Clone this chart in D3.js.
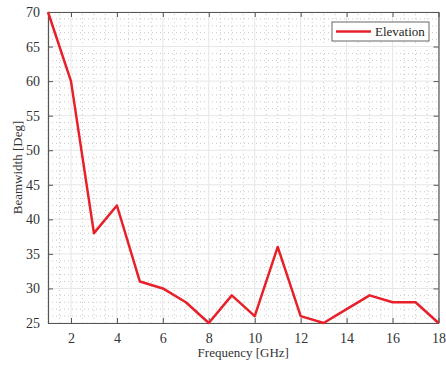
<!DOCTYPE html>
<html>
<head>
<meta charset="utf-8">
<script src="https://cdn.jsdelivr.net/npm/d3@7"></script>
<style>
  body { margin: 0; background: #fff; }
  svg text { font-family: "Liberation Serif", "Times New Roman", serif !important; }
</style>
</head>
<body>
<div id="chart"></div>
<script>
// data
const frequency = [1, 2, 3, 4, 5, 6, 7, 8, 9, 10, 11, 12, 13, 14, 15, 16, 17, 18];
const elevation = [70, 60, 38, 42, 31, 30, 28, 25, 29, 26, 36, 26, 25, 27, 29, 28, 28, 25];
const xTicks = [2, 4, 6, 8, 10, 12, 14, 16, 18];
const yTicks = [25, 30, 35, 40, 45, 50, 55, 60, 65, 70];

const w = 446, h = 367;
const margin = { top: 12, right: 7.5, bottom: 44, left: 48 };

const svg = d3.select("#chart").append("svg")
    .attr("width", w)
    .attr("height", h);

const x = d3.scaleLinear().domain([1, 18]).range([margin.left, w - margin.right]);
const y = d3.scaleLinear().domain([25, 70]).range([h - margin.bottom, margin.top]);

// minor grid (dotted)
const xMinor = d3.range(1, 18.01, 0.5).filter(v => v % 2 !== 0);
const yMinor = d3.range(25, 70.01, 1).filter(v => v % 5 !== 0);

svg.append("g")
    .selectAll("line")
    .data(xMinor)
    .enter().append("line")
    .attr("x1", d => x(d)).attr("x2", d => x(d))
    .attr("y1", y(25)).attr("y2", y(70))
    .attr("stroke", "#c8c8c8")
    .attr("stroke-width", 1)
    .attr("stroke-dasharray", "1,3");

svg.append("g")
    .selectAll("line")
    .data(yMinor)
    .enter().append("line")
    .attr("x1", x(1)).attr("x2", x(18))
    .attr("y1", d => y(d)).attr("y2", d => y(d))
    .attr("stroke", "#c8c8c8")
    .attr("stroke-width", 1)
    .attr("stroke-dasharray", "1,3");

// major grid
svg.append("g")
    .selectAll("line")
    .data(xTicks)
    .enter().append("line")
    .attr("x1", d => x(d)).attr("x2", d => x(d))
    .attr("y1", y(25)).attr("y2", y(70))
    .attr("stroke", "#e6e6e6")
    .attr("stroke-width", 1);

svg.append("g")
    .selectAll("line")
    .data(yTicks)
    .enter().append("line")
    .attr("x1", x(1)).attr("x2", x(18))
    .attr("y1", d => y(d)).attr("y2", d => y(d))
    .attr("stroke", "#e6e6e6")
    .attr("stroke-width", 1);

// axes (box style, ticks inward)
const axisColor = "#555";
const tickLen = 5;

function styleAxis(g) {
    g.attr("font-family", "Liberation Serif").attr("font-size", 14);
    g.select(".domain").attr("stroke", axisColor).attr("stroke-width", 1.2);
    g.selectAll(".tick line").attr("stroke", axisColor);
    g.selectAll(".tick text").attr("fill", "#333");
}

svg.append("g")
    .attr("transform", `translate(0,${y(25)})`)
    .call(d3.axisBottom(x).tickValues(xTicks).tickSizeInner(-tickLen).tickSizeOuter(0).tickPadding(10))
    .call(styleAxis);

svg.append("g")
    .attr("transform", `translate(0,${y(70)})`)
    .call(d3.axisTop(x).tickValues(xTicks).tickSizeInner(-tickLen).tickSizeOuter(0).tickFormat(""))
    .call(styleAxis);

svg.append("g")
    .attr("transform", `translate(${x(1)},0)`)
    .call(d3.axisLeft(y).tickValues(yTicks).tickSizeInner(-tickLen).tickSizeOuter(0).tickPadding(8))
    .call(styleAxis);

svg.append("g")
    .attr("transform", `translate(${x(18)},0)`)
    .call(d3.axisRight(y).tickValues(yTicks).tickSizeInner(-tickLen).tickSizeOuter(0).tickFormat(""))
    .call(styleAxis);

// line
const line = d3.line()
    .x((d, i) => x(frequency[i]))
    .y(d => y(d));

svg.append("path")
    .datum(elevation)
    .attr("fill", "none")
    .attr("stroke", "#e8202a")
    .attr("stroke-width", 2.5)
    .attr("stroke-linejoin", "round")
    .attr("d", line);

// axis labels
svg.append("text")
    .attr("x", (x(1) + x(18)) / 2)
    .attr("y", 357)
    .attr("text-anchor", "middle")
    .attr("fill", "#333")
    .style("font-size", "13px")
    .text("Frequency [GHz]");

svg.append("text")
    .attr("transform", "rotate(-90)")
    .attr("x", -(y(25) + y(70)) / 2)
    .attr("y", 22)
    .attr("text-anchor", "middle")
    .attr("fill", "#333")
    .style("font-size", "13px")
    .text("Beamwidth [Deg]");

// legend
const legend = svg.append("g").attr("transform", "translate(332,22)");
legend.append("rect")
    .attr("width", 97).attr("height", 19)
    .attr("fill", "#fff")
    .attr("stroke", "#666")
    .attr("stroke-width", 1);
legend.append("line")
    .attr("x1", 4).attr("x2", 39)
    .attr("y1", 9.5).attr("y2", 9.5)
    .attr("stroke", "#e8202a")
    .attr("stroke-width", 2.5);
legend.append("text")
    .attr("x", 43).attr("y", 14)
    .attr("fill", "#222")
    .style("font-size", "13px")
    .text("Elevation");
</script>
</body>
</html>
